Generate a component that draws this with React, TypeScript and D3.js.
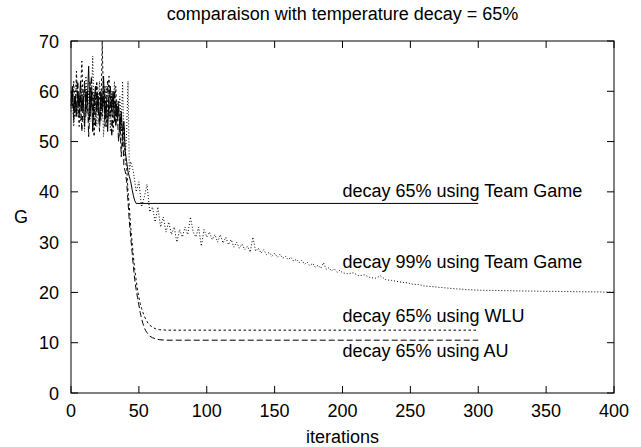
import React from "react";
import * as d3 from "d3";

// ---- data ----
const X_TICKS = [0, 50, 100, 150, 200, 250, 300, 350, 400];
const Y_TICKS = [0, 10, 20, 30, 40, 50, 60, 70];

// Team Game, decay 65% (solid). Early values: one per iteration starting at 0
const TG65_EARLY = [58, 61, 56, 59, 55, 60, 57, 62, 56, 59, 53, 60, 58, 65, 55, 60, 52, 58, 61, 56, 59, 54, 60, 57, 63, 55, 58, 52, 59, 61, 56, 60, 54, 58, 55, 57, 53, 56, 52, 54, 48, 46, 44, 43, 42, 40.5, 39.2, 38.2, 37.7];
const TG65_TAIL_ITER = [300];
const TG65_TAIL_G = [37.7];

// Team Game, decay 99% (dotted)
const TG99_EARLY = [56, 60, 53, 57, 62, 55, 59, 54, 61, 57, 52, 63, 56, 60, 54, 58, 67, 55, 60, 53, 58, 62, 55, 59, 51, 57, 61, 54, 58, 52, 60, 56, 62, 53, 58, 55, 59, 52, 62, 50, 47, 52, 62, 44];
const TG99_TAIL_ITER = [44, 46, 48, 50, 52, 54, 56, 58, 60, 62, 64, 66, 68, 70, 72, 74, 76, 78, 80, 82, 84, 86, 88, 90, 92, 94, 96, 98, 100, 102, 104, 106, 108, 110, 112, 114, 116, 118, 120, 122, 124, 126, 128, 130, 132, 134, 136, 138, 140, 142, 144, 146, 148, 150, 152, 154, 156, 158, 160, 162, 164, 166, 168, 170, 172, 174, 176, 178, 180, 182, 184, 186, 188, 190, 192, 194, 196, 198, 200, 204, 208, 212, 216, 220, 224, 228, 232, 236, 240, 244, 248, 252, 256, 260, 264, 268, 272, 276, 280, 284, 288, 292, 296, 300, 310, 320, 330, 340, 350, 360, 370, 380, 390, 400];
const TG99_TAIL_G = [46, 44, 40, 42, 37, 39, 41.5, 36, 37, 34, 37, 33, 35, 32, 34, 31.5, 33, 30, 32.5, 31, 33, 31.5, 35, 32, 31, 33, 29.2, 32.5, 31, 32, 30.5, 31.5, 30, 31.5, 29.8, 31, 29.5, 30.5, 29, 30, 28.8, 29.6, 28.5, 29.2, 28, 31, 28.2, 28.8, 27.8, 28.5, 27.5, 28, 27.2, 27.8, 27, 27.6, 26.8, 27.2, 26.5, 27, 26.2, 26.6, 25.9, 26.4, 25.6, 26, 25.3, 25.8, 25, 25.4, 24.8, 25.9, 24.6, 24.9, 24.3, 24.7, 24, 24.4, 23.9, 23.7, 23.9, 23.3, 23.5, 23, 22.8, 23.3, 22.5, 22.4, 22.2, 22.0, 21.9, 21.6, 21.6, 21.3, 21.2, 21.1, 21.0, 20.9, 20.8, 20.7, 20.65, 20.55, 20.5, 20.45, 20.4, 20.35, 20.3, 20.27, 20.22, 20.2, 20.15, 20.12, 20.1, 20.05];

// WLU, decay 65% (short dashes)
const WLU_EARLY = [60, 57, 62, 55, 64, 58, 53, 60, 66, 57, 61, 55, 59, 54, 62, 57, 60, 51, 58, 62, 56, 60, 54, 70, 57, 61, 53, 58, 63, 55, 59, 52, 57, 61, 54, 58, 51, 55, 49, 53, 46, 45, 40, 37, 33, 30, 27, 24.5, 22.5, 20.5, 19, 17.8, 16.8, 16, 15.3, 14.7, 14.2, 13.8, 13.5];
const WLU_TAIL_ITER = [60, 62, 65, 70, 300];
const WLU_TAIL_G = [13.1, 12.8, 12.6, 12.5, 12.5];

// AU, decay 65% (long dashes)
const AU_EARLY = [57, 60, 54, 59, 56, 62, 55, 59, 52, 58, 62, 56, 60, 51, 57, 63, 55, 59, 53, 61, 57, 52, 58, 55, 60, 53, 57, 62, 55, 59, 51, 56, 60, 53, 57, 50, 54, 47, 52, 45, 44, 42, 38, 34, 31, 28, 25, 22.5, 20.5, 19, 17.5, 16, 14.8, 13.8, 13, 12.4, 12, 11.6, 11.3];
const AU_TAIL_ITER = [60, 62, 65, 70, 300];
const AU_TAIL_G = [11, 10.8, 10.6, 10.5, 10.5];

const LABEL_TEXT = ["decay 65% using Team Game", "decay 99% using Team Game", "decay 65% using WLU", "decay 65% using AU"];
const LABEL_ITER = [200, 200, 200, 200];
const LABEL_G = [39.0, 24.85, 14.1, 7.15];

const TITLE = "comparaison with temperature decay = 65%";
const X_LABEL = "iterations";
const Y_LABEL = "G";

// ---- layout ----
const W = 641, H = 447;
const L = 71, R = 614, T = 41, B = 393;
const FONT = "'Liberation Sans', Arial, Helvetica, sans-serif";
const FS = 18;

function pts(early: number[], tailIter: number[], tailG: number[]): [number, number][] {
  const a: [number, number][] = early.map((g, i) => [i, g]);
  tailIter.forEach((it, i) => a.push([it, tailG[i]]));
  return a;
}

export default function App() {
  const x = d3.scaleLinear().domain([0, 400]).range([L, R]);
  const y = d3.scaleLinear().domain([0, 70]).range([B, T]);
  const line = d3.line<[number, number]>().x(d => x(d[0])).y(d => y(d[1]));

  const series = [
    { d: pts(TG65_EARLY, TG65_TAIL_ITER, TG65_TAIL_G), dash: undefined },
    { d: pts(TG99_EARLY, TG99_TAIL_ITER, TG99_TAIL_G), dash: "1,2" },
    { d: pts(WLU_EARLY, WLU_TAIL_ITER, WLU_TAIL_G), dash: "2.5,2.5" },
    { d: pts(AU_EARLY, AU_TAIL_ITER, AU_TAIL_G), dash: "6,3" },
  ];
  const TL = 7;
  const cx = (L + R) / 2;

  return (
    <svg width={W} height={H} style={{ position: "absolute", left: 0, top: 0, background: "#fff" }} fontFamily={FONT} fontSize={FS}>
      <rect x={0} y={0} width={W} height={H} fill="#fff" />
      <text x={cx} y={20} textAnchor="middle">{TITLE}</text>
      <text x={21} y={223} textAnchor="middle">{Y_LABEL}</text>
      <text x={cx} y={443} textAnchor="middle">{X_LABEL}</text>

      {Y_TICKS.map(t => (
        <g key={"y" + t}>
          <line x1={L} x2={L + TL} y1={y(t)} y2={y(t)} stroke="#000" />
          <line x1={R - TL} x2={R} y1={y(t)} y2={y(t)} stroke="#000" />
          <text x={59} y={y(t) + 6.5} textAnchor="end">{t}</text>
        </g>
      ))}
      {X_TICKS.map(t => (
        <g key={"x" + t}>
          <line x1={x(t)} x2={x(t)} y1={B} y2={B - TL} stroke="#000" />
          <line x1={x(t)} x2={x(t)} y1={T} y2={T + TL} stroke="#000" />
          <text x={x(t)} y={417} textAnchor="middle">{t}</text>
        </g>
      ))}

      {series.map((s, i) => (
        <path key={i} d={line(s.d) || ""} fill="none" stroke="#000" strokeWidth={1} strokeDasharray={s.dash} />
      ))}

      {LABEL_TEXT.map((t, i) => (
        <text key={t} x={x(LABEL_ITER[i])} y={y(LABEL_G[i])}>{t}</text>
      ))}

      <rect x={L} y={T} width={R - L} height={B - T} fill="none" stroke="#000" strokeWidth={1} />
    </svg>
  );
}
